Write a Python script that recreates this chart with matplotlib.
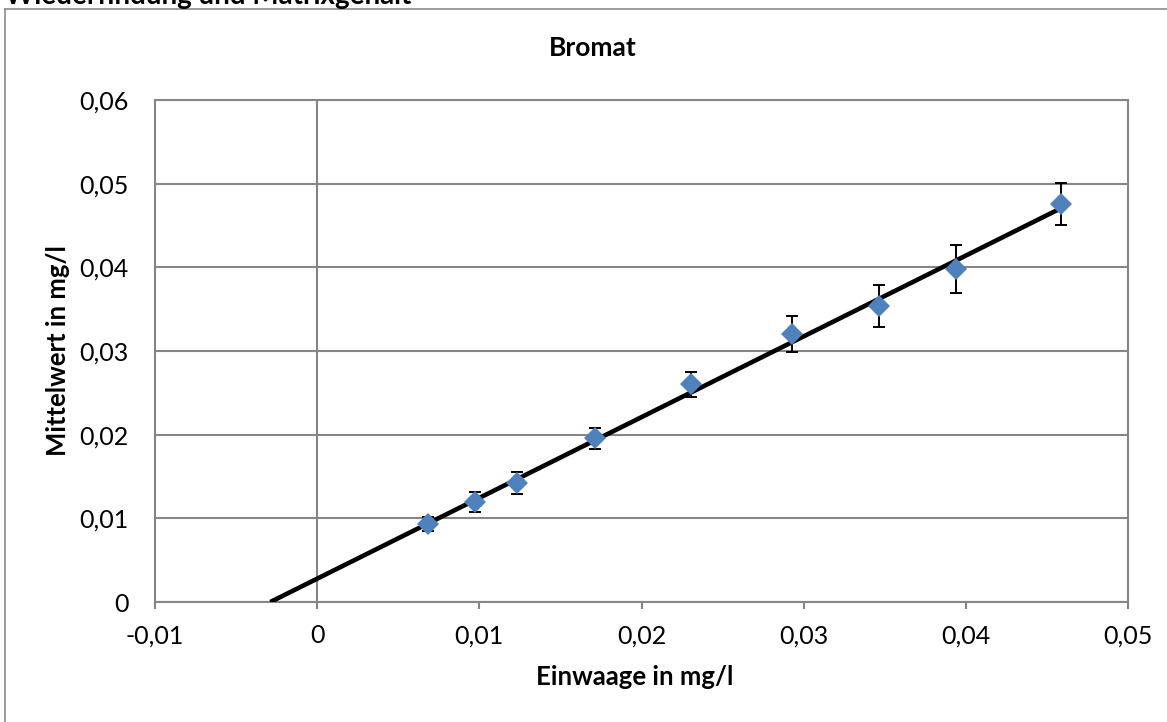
import numpy as np
import matplotlib
matplotlib.use("Agg")
import matplotlib.pyplot as plt
from matplotlib.lines import Line2D

# Messwerte Bromat (Einwaage vs. Mittelwert, mg/l)
einwaage = [0.00684, 0.00974, 0.01235, 0.01714, 0.02306, 0.02927, 0.03466, 0.03938, 0.04586]
mittelwert = [0.00932, 0.01195, 0.01420, 0.01955, 0.02602, 0.03200, 0.03541, 0.03980, 0.04757]
fehler = [0.00085, 0.00116, 0.00134, 0.00126, 0.00151, 0.00213, 0.00249, 0.00285, 0.00255]

x_ticks = [-0.01, 0, 0.01, 0.02, 0.03, 0.04, 0.05]
x_tick_labels = ["-0,01", "0", "0,01", "0,02", "0,03", "0,04", "0,05"]
y_ticks = [0, 0.01, 0.02, 0.03, 0.04, 0.05, 0.06]
y_tick_labels = ["0", "0,01", "0,02", "0,03", "0,04", "0,05", "0,06"]

plt.rcParams['font.family'] = ['Lato', 'DejaVu Sans']

W, H = 1167, 722
grau = '#868686'
blau = '#4F81BD'

fig = plt.figure(figsize=(W / 100, H / 100), dpi=100)
ax = fig.add_axes([155 / W, 1 - 602 / H, (1128 - 155) / W, (602 - 100) / H])

# lineare Trendlinie (rueckwaerts bis y = 0)
m, b = np.polyfit(einwaage, mittelwert, 1)
x0 = -b / m
xs = np.array([x0, einwaage[-1]])
ax.plot(xs, m * xs + b, color='black', lw=3.3, solid_capstyle='butt', zorder=3)

ax.errorbar(einwaage, mittelwert, yerr=fehler, fmt='none', ecolor='black',
            elinewidth=1.4, capsize=4.5, capthick=1.4, zorder=4)
ax.plot(einwaage, mittelwert, linestyle='none', marker='D', markersize=11,
        color=blau, markeredgewidth=0, zorder=5)

ax.set_xlim(-0.01, 0.05)
ax.set_ylim(0, 0.06)
ax.set_xticks(x_ticks)
ax.set_xticklabels(x_tick_labels)
ax.set_yticks(y_ticks)
ax.set_yticklabels(y_tick_labels)

ax.grid(axis='y', color=grau, lw=1.5, zorder=1)
ax.axvline(0, color=grau, lw=1.5, zorder=1)
for s in ax.spines.values():
    s.set_color(grau)
    s.set_linewidth(1.5)

ax.tick_params(axis='x', direction='out', length=5, width=1.5, color=grau,
               labelsize=18, pad=11)
ax.tick_params(axis='y', length=0, labelsize=18, pad=19)

fig.text(593 / W, 1 - 48 / H, "Bromat", ha='center', va='center',
         fontsize=19, fontweight='bold')
fig.text(635 / W, 1 - 677 / H, "Einwaage in mg/l", ha='center', va='center',
         fontsize=18.5, fontweight='bold')
fig.text(58 / W, 1 - 351 / H, "Mittelwert in mg/l", ha='center', va='center',
         rotation=90, fontsize=18.5, fontweight='bold')

# abgeschnittene Ueberschrift und Diagrammrahmen
fig.text(5 / W, 1 - 4 / H, "Wiederfindung und Matrixgehalt", ha='left',
         va='baseline', fontsize=20, fontweight='bold')
fig.add_artist(Line2D([5 / W, 5 / W], [0, 1 - 9 / H], color='#8c8c8c', lw=1.2))
fig.add_artist(Line2D([5 / W, 1], [1 - 9 / H, 1 - 9 / H], color='#8c8c8c', lw=1.2))

fig.savefig("out.png", dpi=100)
